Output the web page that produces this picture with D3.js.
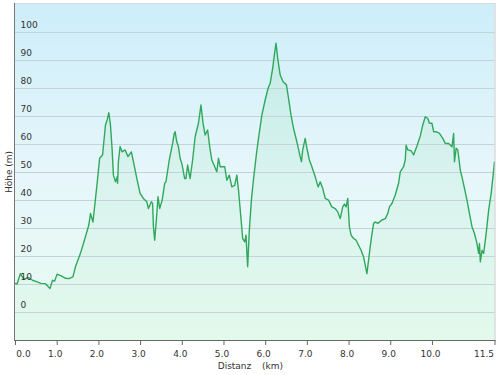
<!DOCTYPE html>
<html><head><meta charset="utf-8">
<script src="https://cdn.jsdelivr.net/npm/d3@7"></script>
<style>html,body{margin:0;padding:0;background:#fff;}svg{display:block;}</style>
</head><body>
<svg id="c" width="500" height="375"></svg>
<script>
const distanceKm = [0.00,0.05,0.13,0.20,0.25,0.32,0.42,0.53,0.62,0.73,0.80,0.84,0.90,0.95,1.01,1.13,1.21,1.29,1.39,1.45,1.57,1.69,1.77,1.81,1.87,1.97,2.03,2.10,2.17,2.21,2.25,2.29,2.33,2.36,2.41,2.45,2.46,2.48,2.52,2.57,2.64,2.71,2.79,2.84,2.93,3.00,3.08,3.16,3.20,3.27,3.30,3.32,3.35,3.39,3.43,3.47,3.53,3.59,3.62,3.70,3.78,3.82,3.84,3.88,3.92,3.96,4.00,4.07,4.10,4.14,4.20,4.26,4.32,4.40,4.46,4.51,4.56,4.62,4.67,4.72,4.79,4.84,4.88,4.92,5.03,5.08,5.14,5.20,5.27,5.32,5.36,5.43,5.46,5.51,5.54,5.58,5.62,5.67,5.71,5.75,5.80,5.84,5.92,6.00,6.07,6.12,6.18,6.22,6.26,6.30,6.36,6.43,6.51,6.56,6.62,6.68,6.76,6.84,6.87,6.90,6.96,7.00,7.06,7.12,7.20,7.27,7.32,7.38,7.44,7.52,7.60,7.68,7.74,7.80,7.86,7.90,7.94,7.98,8.02,8.06,8.12,8.18,8.24,8.30,8.36,8.40,8.44,8.48,8.54,8.60,8.64,8.70,8.80,8.88,8.94,8.98,9.04,9.12,9.20,9.24,9.32,9.36,9.38,9.42,9.50,9.56,9.64,9.72,9.78,9.84,9.90,9.94,10.00,10.04,10.10,10.18,10.26,10.32,10.40,10.48,10.52,10.54,10.58,10.62,10.68,10.72,10.78,10.84,10.90,10.96,11.02,11.08,11.12,11.14,11.16,11.20,11.24,11.30,11.36,11.42,11.48,11.50];
const elevationM = [10.2,10.0,13.7,12.0,11.9,12.3,11.3,10.7,10.2,10.1,9.0,8.4,11.3,11.0,13.5,12.7,12.0,11.9,12.5,16.1,20.9,26.8,31.0,35.1,32.1,45.9,54.8,56.0,66.7,68.5,71.1,66.7,57.8,48.8,46.4,48.2,45.9,53.6,59.0,57.1,57.8,55.4,57.1,53.6,47.0,42.3,40.5,39.3,36.9,39.3,38.7,30.4,25.6,32.8,41.1,36.9,39.9,45.9,46.4,54.2,60.1,63.7,64.3,60.7,58.9,54.8,53.0,47.6,47.6,52.4,47.6,54.2,62.5,67.3,73.8,67.3,63.1,64.9,58.9,54.2,51.8,50.0,54.8,51.8,51.8,47.0,48.8,44.6,45.2,48.8,43.5,31.6,26.2,25.0,27.4,16.1,29.2,39.9,45.9,51.2,57.5,61.9,70.2,75.6,79.8,81.6,86.9,91.7,95.9,90.5,84.5,82.1,81.0,76.2,70.2,65.5,60.7,55.4,53.6,57.8,61.9,58.4,54.2,51.8,48.2,44.6,46.4,44.1,40.5,39.9,37.5,36.9,35.7,33.3,37.5,38.5,37.5,40.5,30.4,27.4,26.2,25.6,23.8,22.0,19.6,16.7,13.7,18.5,25.6,31.6,32.1,31.6,32.8,33.3,35.1,37.5,38.7,41.7,45.9,50.0,51.8,54.2,59.5,57.8,57.5,56.0,59.2,62.8,66.7,69.6,69.0,67.3,67.3,64.3,64.3,63.7,61.9,60.1,60.1,58.9,63.7,53.6,58.4,57.8,50.6,48.2,44.1,39.9,35.1,30.4,28.0,24.4,20.9,24.4,17.9,22.0,20.9,28.0,36.3,42.3,50.6,53.6];
const xTicks = [0,1,2,3,4,5,6,7,8,9,10,11.5];
const xTickLabels = ["0.0","1.0","2.0","3.0","4.0","5.0","6.0","7.0","8.0","9.0","10.0","11.5"];
const yTicks = [0,10,20,30,40,50,60,70,80,90,100];
const yTitle = "Höhe (m)";
const xTitle = "Distanz";
const xUnit = "(km)";

const data = distanceKm.map((d,i)=>({d, e: elevationM[i]}));
const svg = d3.select("#c");
const L = 15, R = 494.5, T = 3, B = 340;
const x = d3.scaleLinear().domain([0, 11.5]).range([L, R]);
const y = d3.scaleLinear().domain([-10, 110.2]).range([B, T]);
const font = "'DejaVu Sans', Verdana, sans-serif";

const defs = svg.append("defs");
const bg = defs.append("linearGradient").attr("id","bg").attr("x1",0).attr("y1",0).attr("x2",0).attr("y2",1);
bg.append("stop").attr("offset","0%").attr("stop-color","#cdeef9");
bg.append("stop").attr("offset","50%").attr("stop-color","#e6f6fb");
bg.append("stop").attr("offset","100%").attr("stop-color","#e8fbf0");
const ag = defs.append("linearGradient").attr("id","ag").attr("gradientUnits","userSpaceOnUse")
  .attr("x1",0).attr("y1",T).attr("x2",0).attr("y2",B);
ag.append("stop").attr("offset","0%").attr("stop-color","#8fdcab").attr("stop-opacity",0.28);
ag.append("stop").attr("offset","100%").attr("stop-color","#c0f0d4").attr("stop-opacity",0.15);

svg.append("rect").attr("x",L).attr("y",T).attr("width",R-L).attr("height",B-T).attr("fill","url(#bg)");

svg.append("path").datum(data)
  .attr("d", d3.area().x(p=>x(p.d)).y0(y(-10)).y1(p=>y(p.e)))
  .attr("fill","url(#ag)");

// grid
svg.append("g").selectAll("line").data(yTicks).join("line")
  .attr("x1",L).attr("x2",R).attr("y1",v=>Math.round(y(v))+0.5).attr("y2",v=>Math.round(y(v))+0.5)
  .attr("stroke","#c3d3d8").attr("stroke-width",1);

svg.append("path").datum(data)
  .attr("d", d3.line().x(p=>x(p.d)).y(p=>y(p.e)))
  .attr("fill","none").attr("stroke","#30a85c").attr("stroke-width",1.4).attr("stroke-linejoin","round");

// borders
svg.append("line").attr("x1",L).attr("x2",R).attr("y1",T+0.5).attr("y2",T+0.5).attr("stroke","#d8dcdc");
svg.append("line").attr("x1",R+0.5).attr("x2",R+0.5).attr("y1",T).attr("y2",B).attr("stroke","#c8cccc");

// y labels
svg.append("g").selectAll("text").data(yTicks).join("text")
  .attr("x",20.5).attr("y",v=>y(v)-3.5).text(v=>v)
  .attr("font-family",font).attr("font-size","9px").attr("fill","#333");

// left axis
svg.append("line").attr("x1",L-0.5).attr("x2",L-0.5).attr("y1",T).attr("y2",B).attr("stroke","#777");

// bottom axis
const xAxis = d3.axisBottom(x).tickValues(xTicks).tickSize(5).tickFormat((d,i)=>xTickLabels[i]);
const gx = svg.append("g").attr("transform",`translate(0,${B})`).call(xAxis);
gx.select(".domain").attr("stroke","#666").attr("d",`M${L-1},0.5H${R+1}`);
gx.selectAll(".tick line").attr("stroke","#666");
gx.selectAll(".tick text").attr("font-family",font).attr("font-size","9px").attr("fill","#333").attr("dy","0.95em")
  .attr("dx",(d,i)=> i===0 ? 8 : (i===xTicks.length-1 ? -11 : -2));

svg.append("text").attr("x",234.5).attr("y",369).attr("text-anchor","middle").text(xTitle)
  .attr("font-family",font).attr("font-size","9px").attr("fill","#333");
svg.append("text").attr("x",272.5).attr("y",369).attr("text-anchor","middle").text(xUnit)
  .attr("font-family",font).attr("font-size","9px").attr("fill","#333");

svg.append("text").attr("transform","translate(11.5,172) rotate(-90)").attr("text-anchor","middle").text(yTitle)
  .attr("font-family",font).attr("font-size","9px").attr("fill","#333");
</script>
</body></html>
